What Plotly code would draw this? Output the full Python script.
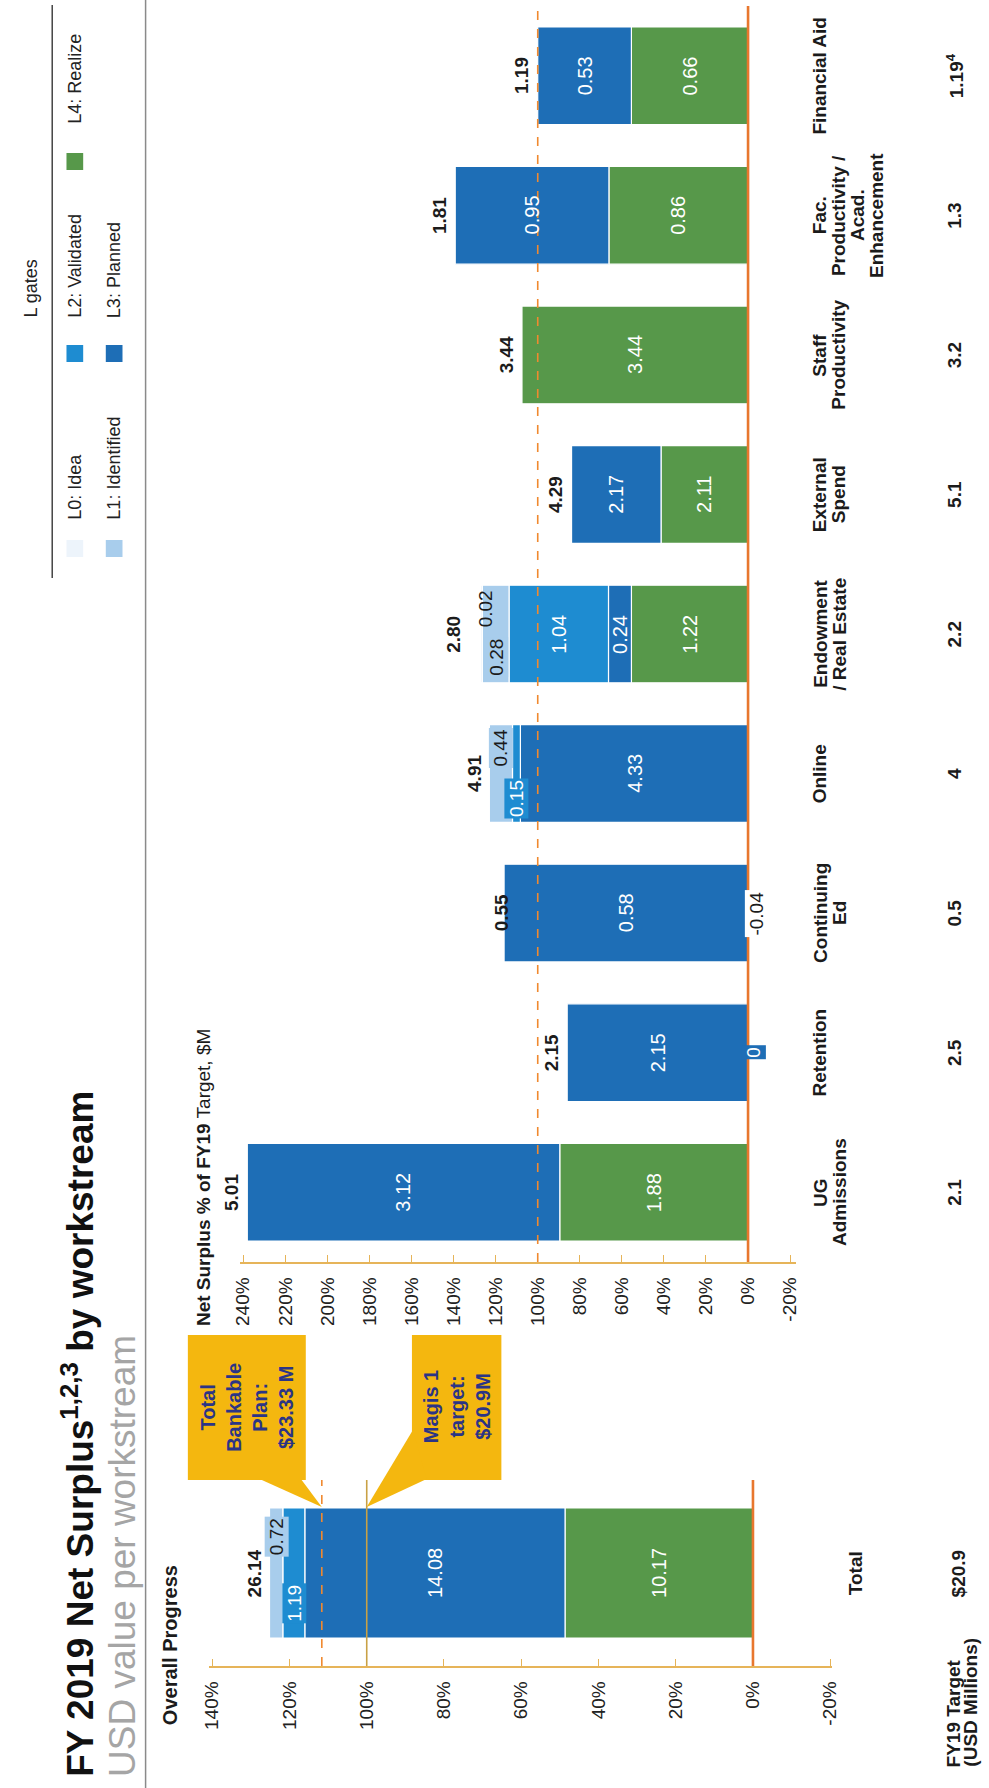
import plotly.graph_objects as go

W, H = 989, 1788
FONT = "Liberation Sans, Arial, sans-serif"

# ---------------- data ----------------
workstreams = ["UG Admissions", "Retention", "Continuing Ed", "Online",
               "Endowment / Real Estate", "External Spend", "Staff Productivity",
               "Fac. Productivity / Acad. Enhancement", "Financial Aid"]
ws_label_lines = [["UG", "Admissions"], ["Retention"], ["Continuing", "Ed"], ["Online"],
                  ["Endowment", "/ Real Estate"], ["External", "Spend"], ["Staff", "Productivity"],
                  ["Fac.", "Productivity /", "Acad.", "Enhancement"], ["Financial Aid"]]
targets = [2.1, 2.5, 0.5, 4, 2.2, 5.1, 3.2, 1.3, 1.19]
target_labels = ["2.1", "2.5", "0.5", "4", "2.2", "5.1", "3.2", "1.3", "1.19<sup>4</sup>"]
l4_realize = [1.88, 0, -0.04, None, 1.22, 2.11, 3.44, 0.86, 0.66]
l3_planned = [3.12, 2.15, 0.58, 4.33, 0.24, 2.17, None, 0.95, 0.53]
l2_validated = [None, None, None, 0.15, 1.04, None, None, None, None]
l1_identified = [None, None, None, 0.44, 0.28, None, None, None, None]
l0_idea = [None, None, None, None, 0.02, None, None, None, None]
ws_totals = [5.01, 2.15, 0.55, 4.91, 2.80, 4.29, 3.44, 1.81, 1.19]

total_category = "Total"
total_target = 20.9
total_target_label = "$20.9"
total_l4, total_l3, total_l2, total_l1, total_l0 = 10.17, 14.08, 1.19, 0.72, None
total_value = 26.14
bankable_plan = 23.33
magis_target = 20.9

ws_ticks = list(range(-20, 241, 20))
tot_ticks = list(range(-20, 141, 20))

# ---------------- style ----------------
LEVELS = ["L4", "L3", "L2", "L1", "L0"]
NAMES = {"L0": "L0: Idea", "L1": "L1: Identified", "L2": "L2: Validated",
         "L3": "L3: Planned", "L4": "L4: Realize"}
COL = {"L0": "#EDF4FB", "L1": "#A8CDEC", "L2": "#1E8CD1", "L3": "#1E6EB6", "L4": "#57984A"}
GOLD = "#E6B459"
ORANGE = "#E8772E"
NAVY = "#2B3486"
YELLOW = "#F4B70F"
DARK = "#1b1b1b"

ws_levels = {"L4": l4_realize, "L3": l3_planned, "L2": l2_validated,
             "L1": l1_identified, "L0": l0_idea}
tot_levels = {"L4": total_l4, "L3": total_l3, "L2": total_l2, "L1": total_l1, "L0": total_l0}


def X(px):
    return px / W


def Y(py):
    return 1 - py / H


def pct(v, t):
    return None if v is None else v / t * 100


fig = go.Figure()

# workstream bars
for lvl in LEVELS:
    vals = ws_levels[lvl]
    xs = [pct(v, t) for v, t in zip(vals, targets)]
    colors = [COL[lvl] if (v is None or v >= 0) else "white" for v in vals]
    fig.add_trace(go.Bar(
        x=xs, y=workstreams, orientation="h", name=NAMES[lvl],
        marker=dict(color=colors, line=dict(color="white", width=1.2)),
        xaxis="x", yaxis="y", showlegend=False, hoverinfo="skip"))

# total bar
for lvl in LEVELS:
    v = tot_levels[lvl]
    if v is None:
        continue
    fig.add_trace(go.Bar(
        x=[pct(v, total_target)], y=[total_category], orientation="h", name=NAMES[lvl],
        marker=dict(color=COL[lvl], line=dict(color="white", width=1.2)),
        xaxis="x2", yaxis="y2", showlegend=False, hoverinfo="skip"))

annotations = []


def ann(text, x, y, xref="paper", yref="paper", size=19, color=DARK,
        xanchor="center", yanchor="middle", angle=-90, **kw):
    d = dict(text=text, x=x, y=y, xref=xref, yref=yref, showarrow=False,
             font=dict(family=FONT, size=size, color=color),
             xanchor=xanchor, yanchor=yanchor, textangle=angle)
    d.update(kw)
    annotations.append(d)


# segment labels
small_ws = {
    (1, "L4"): dict(bg=COL["L3"], fc="white", ys=0, xs=6),
    (2, "L4"): dict(bg="white", fc=DARK, ys=0, xs=0),
    (3, "L2"): dict(bg=COL["L2"], fc="white", ys=-25, xs=0),
    (3, "L1"): dict(bg=COL["L1"], fc=DARK, ys=26, xs=0),
    (4, "L1"): dict(bg=COL["L1"], fc=DARK, ys=-23, xs=0),
    (4, "L0"): dict(bg=None, fc=DARK, ys=25, xs=4),
}
total_label_shift = {4: -12}
for i, cat in enumerate(workstreams):
    pos, neg = 0.0, 0.0
    for lvl in LEVELS:
        v = ws_levels[lvl][i]
        if v is None:
            continue
        p = pct(v, targets[i])
        if p >= 0:
            mid = pos + p / 2
            pos += p
        else:
            mid = neg + p / 2
            neg += p
        st = small_ws.get((i, lvl))
        txt = f"{v:g}" if v == 0 else f"{v:.2f}"
        if st:
            extra = dict(yshift=st["ys"], xshift=st["xs"], borderpad=1)
            if st["bg"]:
                extra["bgcolor"] = st["bg"]
            ann(txt, mid, cat, xref="x", yref="y", size=19, color=st["fc"], **extra)
        else:
            ann(txt, mid, cat, xref="x", yref="y", size=20, color="white")
    # total label
    ann(f"<b>{ws_totals[i]:.2f}</b>", pct(ws_totals[i], targets[i]), cat, xref="x", yref="y",
        size=19, xanchor="right", xshift=-3 + total_label_shift.get(i, 0))
    # category label lines
    for j, line in enumerate(ws_label_lines[i]):
        ann(f"<b>{line}</b>", X(826 + j * 19.3), cat, yref="y", size=19)
    # target
    ann(f"<b>{target_labels[i]}</b>", X(963), cat, yref="y", size=19)

# total panel labels
small_tot = {"L2": dict(bg=COL["L2"], fc="white", ys=-30),
             "L1": dict(bg=COL["L1"], fc=DARK, ys=36)}
pos = 0.0
for lvl in LEVELS:
    v = tot_levels[lvl]
    if v is None:
        continue
    p = pct(v, total_target)
    mid = pos + p / 2
    pos += p
    st = small_tot.get(lvl)
    if st:
        ann(f"{v:.2f}", mid, total_category, xref="x2", yref="y2", size=19, color=st["fc"],
            bgcolor=st["bg"], yshift=st["ys"], borderpad=1)
    else:
        ann(f"{v:.2f}", mid, total_category, xref="x2", yref="y2", size=20, color="white")
ann(f"<b>{total_value:.2f}</b>", pct(total_value, total_target), total_category,
    xref="x2", yref="y2", size=19, xanchor="right", xshift=-3)
ann(f"<b>{total_category}</b>", X(862), total_category, yref="y2", size=19)
ann(f"<b>{total_target_label}</b>", X(967), total_category, yref="y2", size=19)
ann("<b>FY19 Target</b>", X(962), Y(1769), size=19, yanchor="bottom")
ann("<b>(USD Millions)</b>", X(979), Y(1769), size=19, yanchor="bottom")

# titles
ann("<b>FY 2019 Net Surplus<sup>1,2,3</sup> by workstream</b>", X(71), Y(1779), size=37,
    color="#111111", yanchor="bottom")
ann("USD value per workstream", X(116), Y(1779), size=37, color="#A5A5A5", yanchor="bottom")
ann("<b>Overall Progress</b>", X(165), Y(1727), size=20, yanchor="bottom")
ann("<b>Net Surplus % of FY19</b> Target, $M", X(199), Y(1328), size=19, yanchor="bottom")

# legend
ann("L gates", X(23), Y(289), size=18, color="#222")
legend_items = [("L4", 68, 153, 126), ("L2", 68, 345, 320), ("L0", 68, 540, 522),
                ("L3", 108, 345, 320), ("L1", 108, 540, 522)]
shapes = []
for lvl, cx, my0, ty in legend_items:
    shapes.append(dict(type="rect", xref="paper", yref="paper",
                       x0=X(cx - 8.5), x1=X(cx + 8.5), y0=Y(my0 + 17), y1=Y(my0),
                       fillcolor=COL[lvl], line=dict(width=0)))
    ann(NAMES[lvl], X(cx), Y(ty), size=18, color="#222", yanchor="bottom")

shapes.append(dict(type="line", xref="paper", yref="paper", x0=X(45), x1=X(45),
                   y0=Y(5), y1=Y(578), line=dict(color="#444", width=1.5)))
shapes.append(dict(type="line", xref="paper", yref="paper", x0=X(140), x1=X(140),
                   y0=0, y1=1, line=dict(color="#8A8A8A", width=1.5)))

# reference lines
shapes.append(dict(type="line", xref="x", yref="y domain", x0=100, x1=100, y0=0, y1=1,
                   line=dict(color="#F0892F", width=1.6, dash="dash")))
shapes.append(dict(type="line", xref="x", yref="y domain", x0=0, x1=0, y0=0, y1=1,
                   line=dict(color=ORANGE, width=2.6)))
shapes.append(dict(type="line", xref="x2", yref="y2 domain",
                   x0=pct(magis_target, total_target), x1=pct(magis_target, total_target),
                   y0=0, y1=1, line=dict(color="#C9A145", width=1.6)))
shapes.append(dict(type="line", xref="x2", yref="y2 domain",
                   x0=pct(bankable_plan, total_target), x1=pct(bankable_plan, total_target),
                   y0=0, y1=1, line=dict(color="#F0892F", width=1.6, dash="dash")))
shapes.append(dict(type="line", xref="x2", yref="y2 domain", x0=0, x1=0, y0=0, y1=1,
                   line=dict(color=ORANGE, width=2.6)))

# callouts
T0, TS = 758, 3.93  # total axis: 0% px and px per %


def tdata(px):
    return (T0 - px) / TS


shapes.append(dict(type="rect", xref="paper", yref="paper", x0=X(183), x1=X(303),
                   y0=Y(1480), y1=Y(1335), fillcolor=YELLOW, line=dict(width=0)))
shapes.append(dict(type="rect", xref="paper", yref="paper", x0=X(411), x1=X(502),
                   y0=Y(1480), y1=Y(1335), fillcolor=YELLOW, line=dict(width=0)))
tip_b = pct(bankable_plan, total_target)
shapes.append(dict(type="path", xref="x2", yref="paper", fillcolor=YELLOW, line=dict(width=0),
                   path=f"M {tdata(256)},{Y(1479)} L {tdata(298)},{Y(1479)} L {tip_b},{Y(1507)} Z"))
tip_m = pct(magis_target, total_target)
shapes.append(dict(type="path", xref="x2", yref="paper", fillcolor=YELLOW, line=dict(width=0),
                   path=f"M {tdata(412)},{Y(1430)} L {tdata(426)},{Y(1479)} L {tip_m},{Y(1507)} Z"))
ann("<b>Total<br>Bankable<br>Plan:<br>$23.33 M</b>", X(243), Y(1407), size=20, color=NAVY)
ann("<b>Magis 1<br>target:<br>$20.9M</b>", X(457), Y(1407), size=20, color=NAVY)

axis_common = dict(showgrid=False, zeroline=False, showline=True, linecolor=GOLD, linewidth=1.5,
                   ticks="inside", ticklen=7, tickcolor=GOLD, tickwidth=1.3, tickangle=-90,
                   tickfont=dict(family=FONT, size=19, color="#222"), fixedrange=True,
                   ticklabelstandoff=6)

fig.update_layout(
    width=W, height=H, margin=dict(l=0, r=0, t=0, b=0),
    paper_bgcolor="white", plot_bgcolor="white",
    barmode="relative", bargap=0.3, showlegend=False,
    font=dict(family=FONT, color=DARK),
    xaxis=dict(domain=[X(236), X(802)], range=[(753 - 236) / 2.14, (753 - 802) / 2.14],
               anchor="y", tickvals=ws_ticks, ticktext=[f"{t}%" for t in ws_ticks], **axis_common),
    yaxis=dict(domain=[Y(1262), Y(6)], anchor="x", type="category",
               categoryorder="array", categoryarray=workstreams, range=[-0.5, len(workstreams) - 0.5],
               showticklabels=False, showline=False, ticks="", showgrid=False, zeroline=False,
               fixedrange=True),
    xaxis2=dict(domain=[X(205), X(838)], range=[(T0 - 205) / TS, (T0 - 838) / TS],
                anchor="y2", tickvals=tot_ticks, ticktext=[f"{t}%" for t in tot_ticks], **axis_common),
    yaxis2=dict(domain=[Y(1666), Y(1480)], anchor="x2", type="category",
                range=[-0.5, 0.5], showticklabels=False, showline=False, ticks="",
                showgrid=False, zeroline=False, fixedrange=True),
    annotations=annotations, shapes=shapes,
)

fig.write_html("out.html", config={"displayModeBar": False},
               post_script="document.body.style.margin='0';document.body.style.overflow='hidden';")
